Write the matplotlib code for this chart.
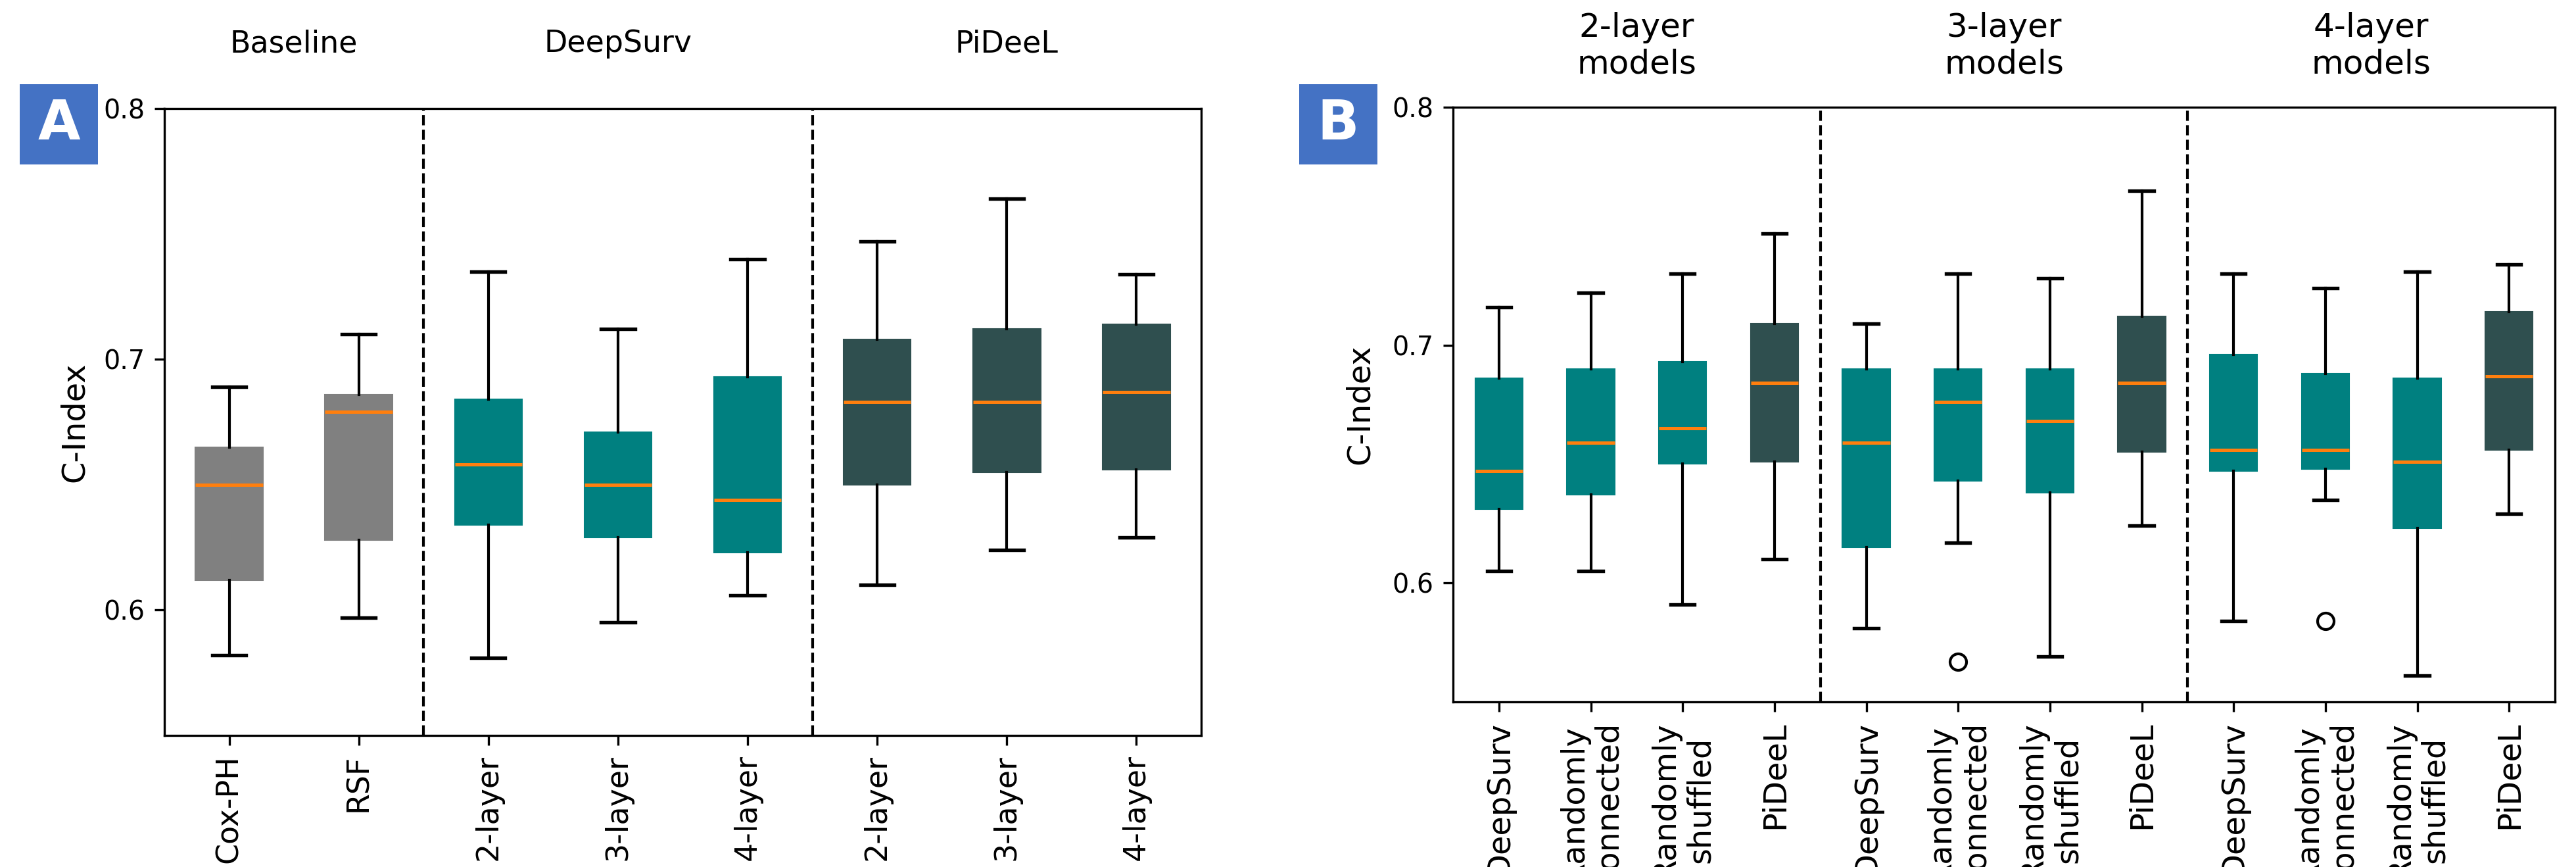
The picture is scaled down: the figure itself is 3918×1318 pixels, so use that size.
import matplotlib
matplotlib.use('Agg')
import matplotlib.pyplot as plt
from matplotlib.patches import Rectangle

# ---- panel A data (C-index distributions) ----
a_labels = ['Cox-PH', 'RSF', '2-layer', '3-layer', '4-layer', '2-layer', '3-layer', '4-layer']
a_whislo = [0.582, 0.597, 0.581, 0.595, 0.606, 0.610, 0.624, 0.629]
a_q1 = [0.612, 0.628, 0.634, 0.629, 0.623, 0.650, 0.655, 0.656]
a_med = [0.650, 0.679, 0.658, 0.650, 0.644, 0.683, 0.683, 0.687]
a_q3 = [0.665, 0.686, 0.684, 0.671, 0.693, 0.708, 0.712, 0.714]
a_whishi = [0.689, 0.710, 0.735, 0.712, 0.740, 0.747, 0.764, 0.734]
a_groups = ['Baseline', 'DeepSurv', 'PiDeeL']
a_colors = ['#808080', '#808080', '#008080', '#008080', '#008080',
            '#2f4f4f', '#2f4f4f', '#2f4f4f']

# ---- panel B data ----
b_labels = ['DeepSurv', 'Randomly\nconnected', 'Randomly\nshuffled', 'PiDeeL'] * 3
b_whislo = [0.605, 0.605, 0.591, 0.610,
            0.581, 0.617, 0.569, 0.624,
            0.584, 0.635, 0.561, 0.629]
b_q1 = [0.631, 0.637, 0.650, 0.651,
        0.615, 0.643, 0.638, 0.655,
        0.647, 0.648, 0.623, 0.656]
b_med = [0.647, 0.659, 0.665, 0.684,
         0.659, 0.676, 0.668, 0.684,
         0.656, 0.656, 0.651, 0.687]
b_q3 = [0.686, 0.690, 0.693, 0.709,
        0.690, 0.690, 0.690, 0.712,
        0.696, 0.688, 0.686, 0.714]
b_whishi = [0.716, 0.722, 0.730, 0.747,
            0.709, 0.730, 0.728, 0.765,
            0.730, 0.724, 0.731, 0.734]
b_fliers = [[], [], [], [],
            [], [0.567], [], [],
            [], [0.584], [], []]
b_groups = ['2-layer\nmodels', '3-layer\nmodels', '4-layer\nmodels']
b_colors = ['#008080', '#008080', '#008080', '#2f4f4f'] * 3


def make_stats(lo, q1, med, q3, hi, fliers=None):
    out = []
    for i in range(len(med)):
        out.append({'whislo': lo[i], 'q1': q1[i], 'med': med[i], 'q3': q3[i],
                    'whishi': hi[i], 'fliers': fliers[i] if fliers else []})
    return out


def draw_panel(ax, stats, colors, labels, groups, group_size, tick_fs, title_fs):
    n = len(stats)
    pos = list(range(1, n + 1))
    bp = ax.bxp(stats, positions=pos, widths=0.52, patch_artist=True,
                medianprops=dict(color='#ff7f0e', linewidth=1.2),
                whiskerprops=dict(color='black', linewidth=1.0),
                capprops=dict(color='black', linewidth=1.3),
                flierprops=dict(marker='o', markerfacecolor='none',
                                markeredgecolor='black', markersize=6))
    for patch, c in zip(bp['boxes'], colors):
        patch.set_facecolor(c)
        patch.set_edgecolor(c)
        patch.set_linewidth(0.5)
    ax.set_xlim(0.5, n + 0.5)
    ax.set_ylim(0.55, 0.8)
    ax.set_yticks([0.6, 0.7, 0.8])
    ax.set_yticklabels(['0.6', '0.7', '0.8'], fontsize=9.5)
    ax.set_xticks(pos)
    ax.set_xticklabels(labels, rotation=90, fontsize=tick_fs)
    # group separators
    bounds = []
    k = 0
    for g in group_size[:-1]:
        k += g
        bounds.append(k + 0.5)
    for b in bounds:
        ax.axvline(b, color='black', linestyle='--', linewidth=1.0)
    # group titles above the axes
    start = 1
    for name, g in zip(groups, group_size):
        ax.text(start + (g - 1) / 2, 1.103, name, transform=ax.get_xaxis_transform(),
                ha='center', va='center', fontsize=title_fs)
        start += g
    ax.set_ylabel('C-Index', fontsize=11.5)


fig = plt.figure(figsize=(3918 / 300, 1318 / 300), dpi=300)

axA = fig.add_axes([250 / 3918, 1 - 1118 / 1318, 1577 / 3918, 953 / 1318])
draw_panel(axA, make_stats(a_whislo, a_q1, a_med, a_q3, a_whishi), a_colors,
           a_labels, a_groups, [2, 3, 3], 11, 11)
axA.yaxis.set_label_coords(-0.072, 0.5)

axB = fig.add_axes([2210 / 3918, 1 - 1067 / 1318, 1676 / 3918, 904 / 1318])
draw_panel(axB, make_stats(b_whislo, b_q1, b_med, b_q3, b_whishi, b_fliers), b_colors,
           b_labels, b_groups, [4, 4, 4], 11.5, 12)
axB.yaxis.set_label_coords(-0.0705, 0.5)

# panel letters in blue boxes
for letter, x0 in [('A', 30), ('B', 1976)]:
    fig.patches.append(Rectangle((x0 / 3918, 1 - 250 / 1318), 119 / 3918, 122 / 1318,
                                 transform=fig.transFigure, facecolor='#4472c4',
                                 edgecolor='none'))
    fig.text((x0 + 59.5) / 3918, 1 - 189 / 1318, letter, color='white',
             fontsize=20, fontweight='bold', ha='center', va='center')

fig.savefig('out.png', dpi=300)
